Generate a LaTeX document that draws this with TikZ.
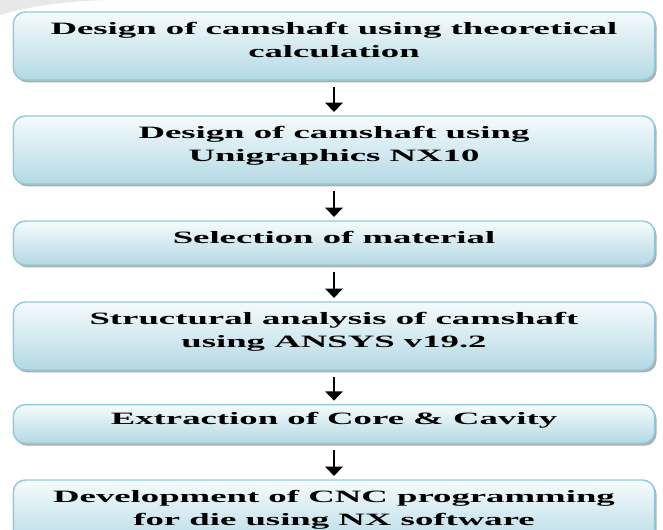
\documentclass[tikz,border=0pt]{standalone}
\usepackage{fontspec}
\setmainfont{Liberation Serif}[FakeStretch=2.12]
\usepackage{xcolor}
\usetikzlibrary{arrows.meta,shadows}

\definecolor{boxtop}{HTML}{F6FBFC}
\definecolor{boxbot}{HTML}{B3D9E4}
\definecolor{boxline}{HTML}{93CAD9}

\begin{document}
\begin{tikzpicture}[
  x=0.75pt, y=-0.75pt,
  stepbox/.style={rectangle,rounded corners=9pt,draw=boxline,line width=1.1pt,
    top color=boxtop,bottom color=boxbot,minimum width=481pt,align=center,
    inner sep=0pt,text depth=9pt,
    font=\fontsize{13}{16.8}\selectfont\bfseries,
    drop shadow={shadow xshift=1.4pt,shadow yshift=-1.8pt,fill=black!45,opacity=0.7}},
  flow/.style={line width=1.7pt,-{Triangle[width=13pt,length=7pt]},
    shorten <=4.5pt,shorten >=2.5pt}
]
  \clip (0,0) rectangle (663,529);
  % faint grey edge in the corner
  \fill[black!9] (0,0) -- (0,15) .. controls (30,6) and (65,1) .. (110,0) -- cycle;

  \node[stepbox,minimum height=51pt] (s1) at (334,46) {Design of camshaft using theoretical\\calculation};
  \node[stepbox,minimum height=51pt] (s2) at (334,150) {Design of camshaft using\\Unigraphics NX10};
  \node[stepbox,minimum height=33pt] (s3) at (334,243) {Selection of material};
  \node[stepbox,minimum height=51pt] (s4) at (334,336) {Structural analysis of camshaft\\using ANSYS v19.2};
  \node[stepbox,minimum height=29pt] (s5) at (334,424) {Extraction of Core \& Cavity};
  \node[stepbox,minimum height=51pt] (s6) at (334,514) {Development of CNC programming\\for die using NX software};

  \draw[flow] (s1) -- (s2);
  \draw[flow] (s2) -- (s3);
  \draw[flow] (s3) -- (s4);
  \draw[flow] (s4) -- (s5);
  \draw[flow] (s5) -- (s6);
\end{tikzpicture}
\end{document}
